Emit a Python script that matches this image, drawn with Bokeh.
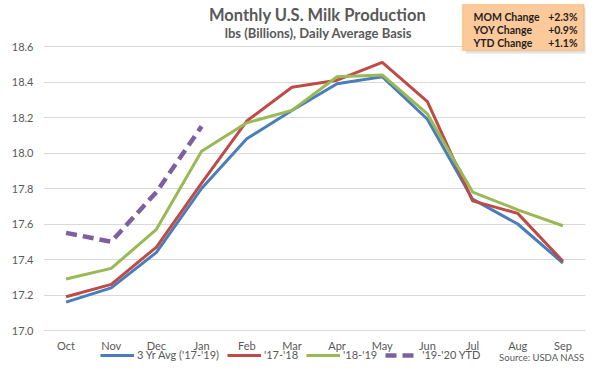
from bokeh.plotting import figure
from bokeh.models import (Range1d, FactorRange, FixedTicker, Label, BoxAnnotation,
                          Legend, LegendItem, NumeralTickFormatter)
from bokeh.embed import file_html
from bokeh.resources import INLINE

months = ["Oct", "Nov", "Dec", "Jan", "Feb", "Mar", "Apr", "May", "Jun", "Jul", "Aug", "Sep"]
avg_17_19 = [17.16, 17.24, 17.44, 17.80, 18.08, 18.24, 18.39, 18.43, 18.19, 17.74, 17.60, 17.38]
y_17_18 = [17.19, 17.26, 17.47, 17.83, 18.18, 18.37, 18.41, 18.51, 18.29, 17.73, 17.66, 17.39]
y_18_19 = [17.29, 17.35, 17.57, 18.01, 18.17, 18.24, 18.43, 18.44, 18.22, 17.78, 17.68, 17.59]
ytd_months = ["Oct", "Nov", "Dec", "Jan"]
ytd_19_20 = [17.55, 17.50, 17.78, 18.15]
y_ticks = [17.0, 17.2, 17.4, 17.6, 17.8, 18.0, 18.2, 18.4, 18.6]
series_names = ["3 Yr Avg ('17-'19)", "'17-'18", "'18-'19", "'19-'20 YTD"]
box_labels = ["MOM Change", "YOY Change", "YTD Change"]
box_values = ["+2.3%", "+0.9%", "+1.1%"]

FONT = "Lato"
GREY = "#595959"

FIG_W, FIG_H = 592, 362
LEFT, RIGHT = 43, 7        # borders beside the frame
FRAME_H = FIG_H            # frame spans the whole figure height
Y_TOP_PX = 46              # figure y of the 18.6 line
Y_BOT_PX = 330             # figure y of the 17.0 line
ppu = (Y_BOT_PX - Y_TOP_PX) / (y_ticks[-1] - y_ticks[0])
y_start = y_ticks[0] - (FRAME_H - Y_BOT_PX) / ppu
y_end = y_ticks[-1] + Y_TOP_PX / ppu

p = figure(frame_width=FIG_W - LEFT - RIGHT, frame_height=FRAME_H, output_backend="svg",
           toolbar_location=None,
           x_range=FactorRange(*months, range_padding=0), y_range=Range1d(y_start, y_end),
           min_border_left=LEFT, min_border_right=RIGHT, min_border_top=0, min_border_bottom=0)
p.outline_line_color = None
p.background_fill_color = "white"
p.border_fill_color = "white"

p.xgrid.grid_line_color = None
p.ygrid.grid_line_color = "#D9D9D9"
p.ygrid.grid_line_width = 1
p.yaxis.ticker = FixedTicker(ticks=y_ticks)
p.yaxis.formatter = NumeralTickFormatter(format="0.0")
for ax in (p.xaxis[0], p.yaxis[0]):
    ax.axis_line_color = None
    ax.major_tick_line_color = None
    ax.minor_tick_line_color = None
    ax.major_tick_out = 0
    ax.major_tick_in = 0
    ax.major_label_text_font = FONT
    ax.major_label_text_font_size = "11px"
    ax.major_label_text_color = GREY
p.yaxis.major_label_standoff = 10
p.xaxis.major_label_standoff = 8
p.xaxis.fixed_location = y_ticks[0]

r1 = p.line(months, avg_17_19, line_color="#4A7EBB", line_width=3)
r2 = p.line(months, y_17_18, line_color="#BE4B48", line_width=3)
r3 = p.line(months, y_18_19, line_color="#98B954", line_width=3)
r4 = p.line(ytd_months, ytd_19_20, line_color="#7D60A0", line_width=4.5, line_dash="11 6")

# screen coords inside the frame: origin at frame bottom-left
def sx(X):
    return X - LEFT

def sy(Y):
    return FRAME_H - Y

legend = Legend(items=[LegendItem(label=n, renderers=[r]) for n, r in zip(series_names, [r1, r2, r3, r4])],
                orientation="horizontal", location=(sx(100), sy(361)), glyph_width=34, glyph_height=12,
                label_standoff=3, spacing=8, padding=0, margin=0,
                border_line_color=None, background_fill_alpha=0,
                label_text_font=FONT, label_text_font_size="11px", label_text_color=GREY,
                label_height=12)
p.add_layout(legend)

p.add_layout(Label(x=sx(584), y=sy(357), x_units="screen", y_units="screen", text="Source: USDA NASS",
                   text_font=FONT, text_font_size="9.5px", text_color=GREY,
                   text_align="right", text_baseline="middle"))

p.add_layout(Label(x=sx(317), y=sy(14), x_units="screen", y_units="screen", text="Monthly U.S. Milk Production",
                   text_font=FONT, text_font_style="bold", text_font_size="16.5px", text_color=GREY,
                   text_align="center", text_baseline="middle"))
p.add_layout(Label(x=sx(318), y=sy(32), x_units="screen", y_units="screen",
                   text="lbs (Billions), Daily Average Basis",
                   text_font=FONT, text_font_style="bold", text_font_size="13px", text_color=GREY,
                   text_align="center", text_baseline="middle"))

shadow = BoxAnnotation(left=sx(465), right=sx(586), top=sy(7), bottom=sy(53),
                       left_units="screen", right_units="screen", top_units="screen", bottom_units="screen",
                       fill_color="#BFBFBF", fill_alpha=0.45, line_color=None)
p.add_layout(shadow)
box = BoxAnnotation(left=sx(462), right=sx(583.5), top=sy(4), bottom=sy(50),
                    left_units="screen", right_units="screen", top_units="screen", bottom_units="screen",
                    fill_color="#FCC99A", fill_alpha=1, line_color="#F79646", line_width=1.5)
p.add_layout(box)
rows_y = [16, 29, 42]
for lab, val, yy in zip(box_labels, box_values, rows_y):
    p.add_layout(Label(x=sx(473), y=sy(yy), x_units="screen", y_units="screen", text=lab,
                       text_font=FONT, text_font_style="bold", text_font_size="10.5px", text_color="#1F1F1F",
                       text_align="left", text_baseline="middle"))
    p.add_layout(Label(x=sx(577), y=sy(yy), x_units="screen", y_units="screen", text=val,
                       text_font=FONT, text_font_style="bold", text_font_size="10.5px", text_color="#1F1F1F",
                       text_align="right", text_baseline="middle"))

open("out.html", "w").write(file_html(p, INLINE))
